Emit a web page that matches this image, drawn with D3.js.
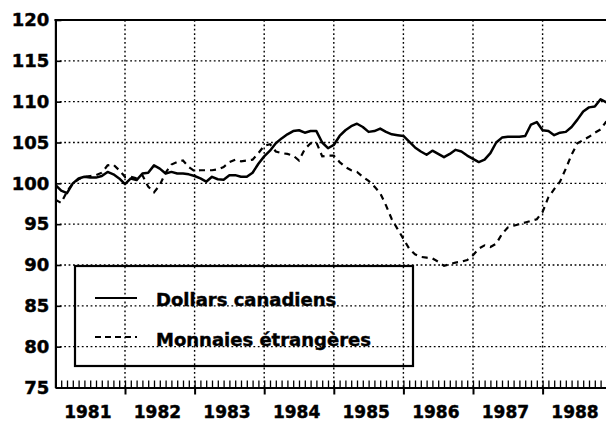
<!DOCTYPE html>
<html>
<head>
<meta charset="utf-8">
<script src="https://cdn.jsdelivr.net/npm/d3@7"></script>
<style>
  html, body { margin: 0; padding: 0; background: #fff; }
  svg { display: block; }
  text { font-family: "DejaVu Sans", sans-serif; font-weight: bold; fill: #000; stroke: #000; stroke-width: 0.45px; }
</style>
</head>
<body>
<svg id="chart" width="606" height="421"></svg>
<script>
// ---- Data (monthly, Jan 1981 – Dec 1988) ----
const years = ["1981", "1982", "1983", "1984", "1985", "1986", "1987", "1988"];
const yTicks = [75, 80, 85, 90, 95, 100, 105, 110, 115, 120];
const seriesNames = ["Dollars canadiens", "Monnaies étrangères"];

const dollarsCanadiens = [
  99.8, 99.1, 98.8, 100.0, 100.6, 100.8, 100.7, 100.7, 100.9, 101.4, 101.1, 100.6,
  99.9, 100.6, 100.4, 101.2, 101.3, 102.2, 101.8, 101.2, 101.4, 101.2, 101.2, 101.1,
  100.9, 100.6, 100.2, 100.8, 100.5, 100.45, 101.0, 101.0, 100.8, 100.8, 101.3, 102.4,
  103.3, 104.0, 104.9, 105.5, 106.0, 106.4, 106.5, 106.2, 106.4, 106.4, 105.0, 104.3,
  104.7, 105.8, 106.5, 107.0, 107.3, 106.9, 106.3, 106.4, 106.7, 106.3, 106.0, 105.9,
  105.8, 105.1, 104.4, 103.9, 103.5, 104.0, 103.6, 103.2, 103.6, 104.1, 103.9, 103.4,
  103.0, 102.6, 102.9, 103.7, 105.0, 105.6, 105.7, 105.7, 105.7, 105.8, 107.2, 107.5,
  106.5, 106.4, 105.9, 106.2, 106.3, 106.9, 107.8, 108.8, 109.3, 109.4, 110.3, 109.9
];

const monnaiesEtrangeres = [
  98.0, 97.6, 99.0, 100.0, 100.5, 100.8, 100.9, 101.0, 101.3, 102.2, 102.3, 101.6,
  100.8, 100.8, 100.6, 101.0, 99.6, 98.9, 99.8, 101.3, 102.3, 102.6, 102.8, 102.0,
  101.5, 101.6, 101.6, 101.6, 101.7, 102.0, 102.6, 102.9, 102.7, 102.8, 102.9, 103.7,
  104.6, 104.8, 103.9, 103.7, 103.6, 103.4, 102.8, 104.2, 104.9, 105.0, 103.3, 103.4,
  103.4, 102.6, 102.0, 101.6, 101.4, 100.8, 100.3, 99.6, 98.8, 97.3, 95.6, 94.4,
  93.2, 92.0, 91.3, 91.0, 90.9, 90.8, 90.4, 89.9, 90.1, 90.3, 90.4, 90.6,
  91.2, 92.0, 92.4, 92.2, 92.6, 93.8, 94.6, 94.8, 95.0, 95.2, 95.4, 95.6,
  96.5, 98.3, 99.3, 100.2, 101.8, 103.5, 104.9, 105.3, 105.7, 106.2, 106.6, 107.6
];

// ---- Layout ----
const svg = d3.select("#chart");
const pLeft = 55.4, pRight = 606, pTop = 20, pBottom = 387.5;
const nMonths = dollarsCanadiens.length;

const x = d3.scaleLinear().domain([0, 95]).range([pLeft, 606.4]);
const y = d3.scaleLinear().domain([75, 120]).range([pBottom, pTop]);

svg.append("defs").append("clipPath").attr("id", "clip")
  .append("rect").attr("x", pLeft).attr("y", pTop).attr("width", pRight - pLeft).attr("height", pBottom - pTop);

// Grid lines
const grid = svg.append("g").attr("stroke", "#000").attr("stroke-width", 1.4)
  .attr("stroke-dasharray", "1.8,2.6").attr("fill", "none");
grid.selectAll("line.h").data(yTicks.filter(v => v > 75 && v < 120)).enter().append("line")
  .attr("x1", pLeft).attr("x2", pRight).attr("y1", d => y(d)).attr("y2", d => y(d));
grid.selectAll("line.v").data(d3.range(1, years.length)).enter().append("line")
  .attr("x1", d => x(d * 12)).attr("x2", d => x(d * 12)).attr("y1", pTop).attr("y2", pBottom);

// Lines
const line = d3.line().x((d, i) => x(i)).y(d => y(d));
const plot = svg.append("g").attr("clip-path", "url(#clip)");
plot.append("path").datum(monnaiesEtrangeres).attr("d", line)
  .attr("fill", "none").attr("stroke", "#000").attr("stroke-width", 2.2)
  .attr("stroke-dasharray", "6,5");
plot.append("path").datum(dollarsCanadiens).attr("d", line)
  .attr("fill", "none").attr("stroke", "#000").attr("stroke-width", 2.5)
  .attr("stroke-linejoin", "round");

// Top frame
svg.append("line").attr("x1", pLeft - 1).attr("x2", pRight).attr("y1", pTop).attr("y2", pTop)
  .attr("stroke", "#000").attr("stroke-width", 2.2);

// Y axis
const yAxis = d3.axisLeft(y).tickValues(yTicks).tickSize(-6).tickSizeOuter(0).tickPadding(6);
const gy = svg.append("g").attr("transform", `translate(${pLeft},0)`).call(yAxis);
gy.select(".domain").attr("stroke-width", 2.2);
gy.selectAll(".tick line").attr("stroke-width", 1.6);
gy.selectAll("text").style("font-size", "18px").style("font-family", "DejaVu Sans").style("font-weight", "bold");

// X axis: monthly minor ticks (upward)
const xMinor = d3.axisBottom(x).tickValues(d3.range(0, nMonths)).tickSize(-7).tickSizeOuter(0).tickFormat("");
const gxm = svg.append("g").attr("transform", `translate(0,${pBottom})`).call(xMinor);
gxm.select(".domain").attr("stroke-width", 2.2);
gxm.selectAll(".tick line").attr("stroke-width", 1.3);

// Year ticks (downward)
const xMajor = d3.axisBottom(x).tickValues(d3.range(1, years.length).map(d => d * 12)).tickSize(7).tickSizeOuter(0).tickFormat("");
const gxM = svg.append("g").attr("transform", `translate(0,${pBottom})`).call(xMajor);
gxM.select(".domain").remove();
gxM.selectAll(".tick line").attr("stroke-width", 2);

// Year labels
const xLab = d3.axisBottom(x).tickValues(years.map((d, i) => i * 12 + 5.5)).tickSize(0).tickPadding(0)
  .tickFormat((d, i) => years[i]);
const gxl = svg.append("g").attr("transform", `translate(0,${pBottom})`).call(xLab);
gxl.select(".domain").remove();
gxl.selectAll("text").attr("dy", null).attr("y", 30.5)
  .style("font-size", "17px").style("font-family", "DejaVu Sans").style("font-weight", "bold");

// Legend
const lg = svg.append("g");
lg.append("rect").attr("x", 75).attr("y", 266).attr("width", 338).attr("height", 100)
  .attr("fill", "none").attr("stroke", "#000").attr("stroke-width", 2.2);
lg.append("line").attr("x1", 95).attr("x2", 137).attr("y1", 298).attr("y2", 298)
  .attr("stroke", "#000").attr("stroke-width", 2);
lg.append("line").attr("x1", 95).attr("x2", 137).attr("y1", 337).attr("y2", 337)
  .attr("stroke", "#000").attr("stroke-width", 2).attr("stroke-dasharray", "6,4");
lg.append("text").attr("x", 156).attr("y", 306).style("font-size", "18px").text(seriesNames[0]);
lg.append("text").attr("x", 156).attr("y", 346).style("font-size", "18px").text(seriesNames[1]);
</script>
</body>
</html>
